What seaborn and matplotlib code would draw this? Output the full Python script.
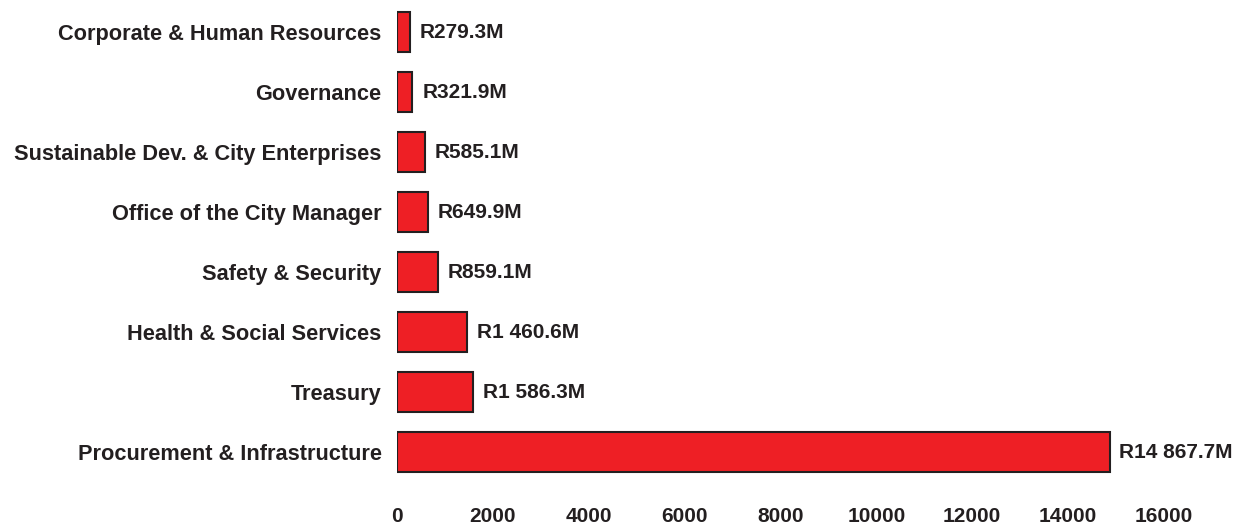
import matplotlib
matplotlib.use("Agg")
import matplotlib.pyplot as plt
import seaborn as sns
import pandas as pd

departments = [
    "Corporate & Human Resources",
    "Governance",
    "Sustainable Dev. & City Enterprises",
    "Office of the City Manager",
    "Safety & Security",
    "Health & Social Services",
    "Treasury",
    "Procurement & Infrastructure",
]
budget_rm = [279.3, 321.9, 585.1, 649.9, 859.1, 1460.6, 1586.3, 14867.7]
x_ticks = [0, 2000, 4000, 6000, 8000, 10000, 12000, 14000, 16000]

BAR_RED = "#EE1F25"
INK = "#231F20"

sns.set_theme(style="white")
plt.rcParams["font.family"] = ["Liberation Sans", "DejaVu Sans"]
plt.rcParams["font.weight"] = "bold"

df = pd.DataFrame({"department": departments, "budget": budget_rm})

fig = plt.figure(figsize=(12.44, 5.25), dpi=100)
ax = fig.add_axes([397 / 1244, 1 - 482 / 525, (1164 - 397) / 1244, 480 / 525])

sns.barplot(data=df, x="budget", y="department", orient="h", color=BAR_RED,
            saturation=1, edgecolor=INK, linewidth=1.5, width=0.67, ax=ax)


def rand_label(v):
    s = f"{v:,.1f}".replace(",", " ")
    return f"R{s}M"


ax.bar_label(ax.containers[0], labels=[rand_label(v) for v in budget_rm],
             padding=7, fontsize=15, fontweight="bold", color=INK)

ax.set_xlim(0, 16000)
ax.set_ylim(len(departments) - 0.5, -0.5)
ax.set_xticks(x_ticks)
ax.set_xticklabels([str(t) for t in x_ticks])
ax.set_xlabel("")
ax.set_ylabel("")
ax.tick_params(axis="x", length=0, pad=18, labelsize=15, labelcolor=INK)
ax.tick_params(axis="y", length=0, pad=11, labelsize=15.7, labelcolor=INK)
for lab in ax.get_xticklabels() + ax.get_yticklabels():
    lab.set_fontweight("bold")
sns.despine(ax=ax, left=True, bottom=True)
ax.grid(False)

fig.savefig("out.png", dpi=100, facecolor="white")
